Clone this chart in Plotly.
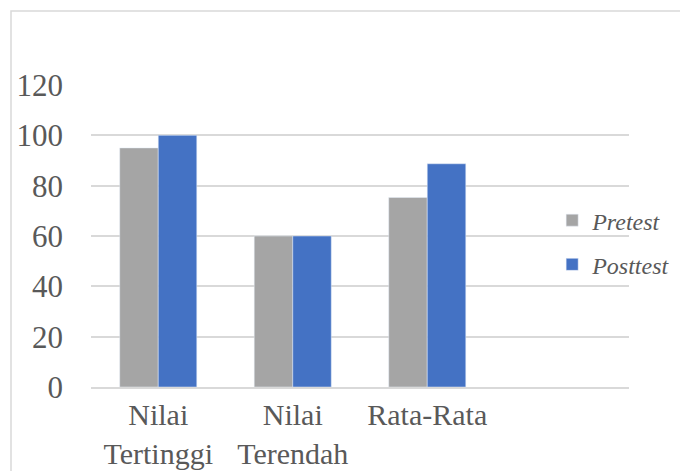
import plotly.graph_objects as go

categories = ["Nilai<br>Tertinggi", "Nilai<br>Terendah", "Rata-Rata", " "]
pretest = [95, 60, 75.3, None]
posttest = [100, 60, 88.7, None]
y_ticks = [0, 20, 40, 60, 80, 100, 120]

FONT = "Liberation Serif, Times New Roman, serif"

fig = go.Figure()
fig.add_trace(go.Bar(name="<i>Pretest</i>", x=categories, y=pretest, marker_color="#a5a5a5",
                     legendgroup="a"))
fig.add_trace(go.Bar(name="<i>Posttest</i>", x=categories, y=posttest, marker_color="#4472c4",
                     legendgroup="b"))

fig.update_layout(
    width=680, height=471,
    margin=dict(l=91, r=51, t=85, b=84, autoexpand=False),
    paper_bgcolor="white", plot_bgcolor="white",
    barmode="group", bargap=0.427, bargroupgap=0,
    font=dict(family=FONT, color="#595959", size=30),
    legend=dict(xref="container", yref="container", x=0.812, y=0.485,
                xanchor="left", yanchor="middle",
                font=dict(size=24, color="#595959"), bgcolor="rgba(0,0,0,0)",
                itemwidth=30, tracegroupgap=10),
    xaxis=dict(showline=True, linecolor="#d9d9d9", linewidth=2, ticks="",
               tickfont=dict(size=30), showgrid=False, automargin=False),
    yaxis=dict(range=[0, 120], tickvals=y_ticks, showgrid=True, gridcolor="#d9d9d9",
               gridwidth=2, zeroline=False, showline=False, ticks="",
               tickfont=dict(size=31), ticklabelstandoff=27, automargin=False),
    shapes=[dict(type="rect", xref="paper", yref="paper",
                 x0=-0.1487, x1=1.3, y0=-0.5, y1=1.245,
                 line=dict(color="#d9d9d9", width=1.5), fillcolor="rgba(0,0,0,0)", layer="below")],
)

fig.write_html("out.html")
